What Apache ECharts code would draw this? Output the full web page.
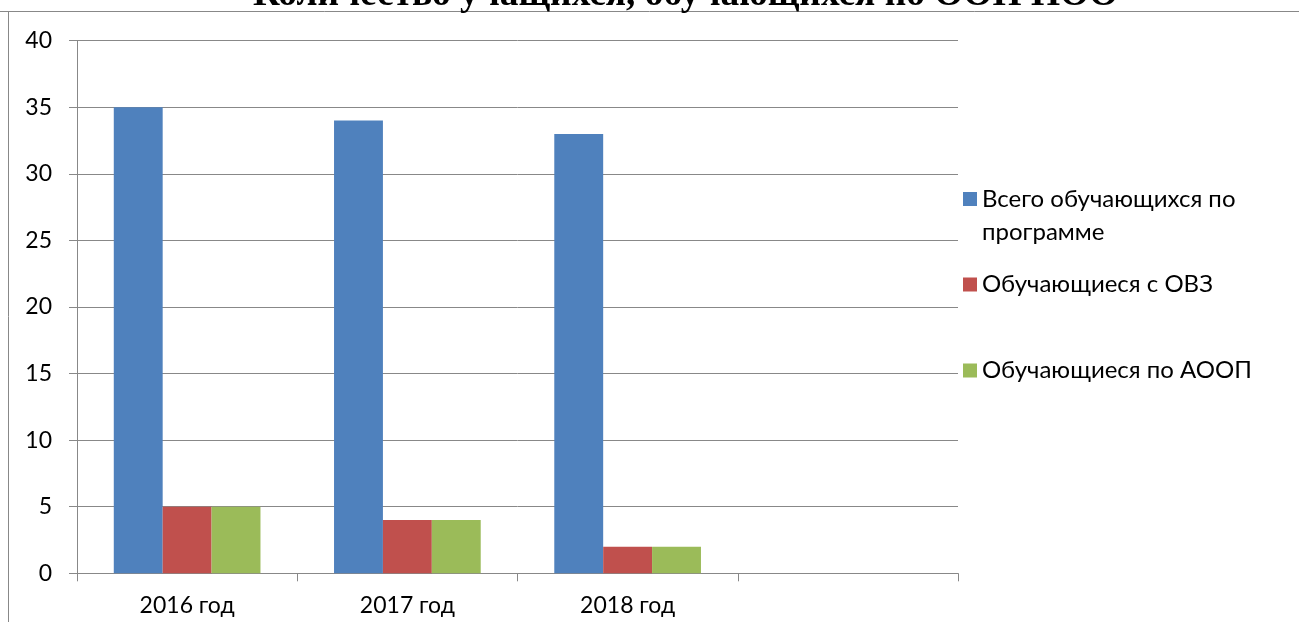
<!DOCTYPE html>
<html>
<head>
<meta charset="utf-8">
<style>
html,body{margin:0;padding:0;background:#fff;}
#chart{width:1299px;height:622px;}
</style>
<script src="https://cdn.jsdelivr.net/npm/echarts@6/dist/echarts.min.js"></script>
</head>
<body>
<div id="chart"></div>
<script>
var titleText = 'Количество учащихся, обучающихся по ООП НОО';
var categories = ['2016 год', '2017 год', '2018 год', ''];
var seriesNames = ['Всего обучающихся по программе', 'Обучающиеся с ОВЗ', 'Обучающиеся по АООП'];
var totalValues = [35, 34, 33, null];
var ovzValues = [5, 4, 2, null];
var aoopValues = [5, 4, 2, null];
var yTicks = [0, 5, 10, 15, 20, 25, 30, 35, 40];

var colors = ['#4F81BD', '#C0504D', '#9BBB59'];
var axisGray = '#888888';
var font = 'Lato';

var chart = echarts.init(document.getElementById('chart'), null, {renderer: 'canvas'});

function legendFor(i, top) {
  return {
    data: [seriesNames[i]],
    left: 963,
    top: top,
    orient: 'vertical',
    icon: 'rect',
    itemWidth: 14,
    itemHeight: 14,
    itemGap: 0,
    padding: 0,
    selectedMode: false,
    formatter: function (n) { return i === 0 ? '\nВсего обучающихся по\nпрограмме' : n; },
    textStyle: {fontFamily: font, fontSize: 24, color: '#000', lineHeight: 33}
  };
}

chart.setOption({
  animation: false,
  color: colors,
  title: {
    text: titleText,
    left: 253,
    top: -23,
    padding: 0,
    textStyle: {fontFamily: 'Liberation Serif', fontWeight: 'bold', fontSize: 37.4, color: '#000'}
  },
  legend: [
    legendFor(0, 149.5),
    legendFor(1, 268),
    legendFor(2, 354)
  ],
  grid: {left: 77, right: 1299 - 958, top: 40.7, bottom: 622 - 573.3, containLabel: false},
  xAxis: {
    type: 'category',
    data: categories,
    axisLine: {lineStyle: {color: axisGray, width: 1}},
    axisTick: {show: true, length: 8, alignWithLabel: false, lineStyle: {color: axisGray}},
    axisLabel: {fontFamily: font, fontSize: 23, color: '#000', margin: 21, interval: 0}
  },
  yAxis: {
    type: 'value',
    min: 0,
    max: 40,
    interval: 5,
    axisLine: {show: true, lineStyle: {color: axisGray, width: 1}},
    axisTick: {show: true, length: 8, lineStyle: {color: axisGray}},
    splitLine: {lineStyle: {color: axisGray, width: 1}},
    axisLabel: {fontFamily: font, fontSize: 23, color: '#000', margin: 25,
      formatter: function (v) { return yTicks.indexOf(v) >= 0 ? String(v) : ''; }}
  },
  series: [
    {name: seriesNames[0], type: 'bar', data: totalValues, barGap: '0%', barCategoryGap: '33.4%'},
    {name: seriesNames[1], type: 'bar', data: ovzValues, barGap: '0%', barCategoryGap: '33.4%'},
    {name: seriesNames[2], type: 'bar', data: aoopValues, barGap: '0%', barCategoryGap: '33.4%'}
  ],
  graphic: [
    {type: 'line', silent: true, shape: {x1: 0, y1: 11.5, x2: 1299, y2: 11.5}, style: {stroke: '#888', lineWidth: 1}},
    {type: 'line', silent: true, shape: {x1: 8.5, y1: 11, x2: 8.5, y2: 622}, style: {stroke: '#888', lineWidth: 1}}
  ]
});
</script>
</body>
</html>
